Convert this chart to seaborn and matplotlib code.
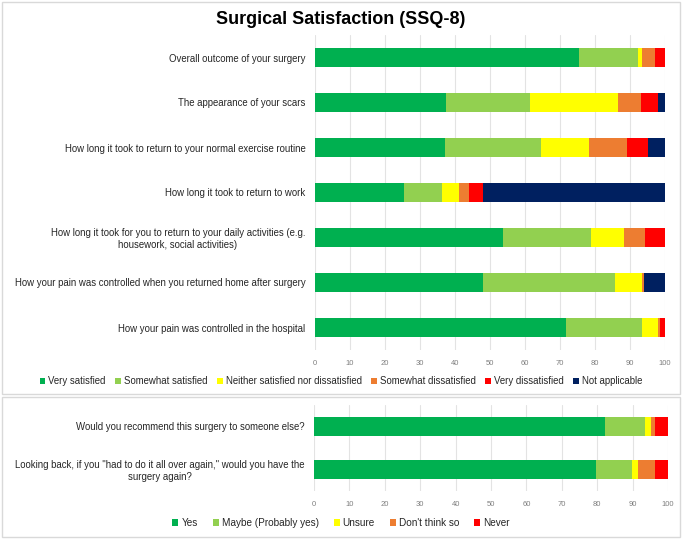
import matplotlib
matplotlib.use("Agg")
import matplotlib.pyplot as plt
import seaborn as sns
import numpy as np
from matplotlib.patches import Patch, Rectangle

# SSQ-8 questions (top panel)
questions = [
    "Overall outcome of your surgery",
    "The appearance of your scars",
    "How long it took to return to your normal exercise routine",
    "How long it took to return to work",
    "How long it took for you to return to your daily activities (e.g.\nhousework, social activities)",
    "How your pain was controlled when you returned home after surgery",
    "How your pain was controlled in the hospital",
]
sat_levels = ["Very satisfied", "Somewhat satisfied", "Neither satisfied nor dissatisfied",
              "Somewhat dissatisfied", "Very dissatisfied", "Not applicable"]
very_satisfied = [75.4, 37.4, 37.1, 25.4, 53.8, 48.0, 71.6]
somewhat_satisfied = [17.0, 24.0, 27.5, 10.9, 25.1, 37.8, 21.7]
neither = [0.9, 25.1, 13.8, 4.7, 9.5, 7.5, 4.8]
somewhat_dissatisfied = [3.8, 6.6, 10.7, 3.1, 5.9, 0.8, 0.5]
very_dissatisfied = [2.9, 5.0, 5.9, 3.9, 5.7, 0.0, 1.4]
not_applicable = [0.0, 1.9, 5.0, 52.0, 0.0, 5.9, 0.0]

# recommend / again questions (bottom panel)
questions2 = [
    "Would you recommend this surgery to someone else?",
    "Looking back, if you \"had to do it all over again,\" would you have the\nsurgery again?",
]
rec_levels = ["Yes", "Maybe (Probably yes)", "Unsure", "Don't think so", "Never"]
yes = [82.1, 79.6]
maybe = [11.3, 10.1]
unsure = [1.9, 1.9]
dont_think = [0.9, 4.7]
never = [3.8, 3.7]

colors = ["#00B050", "#92D050", "#FFFF00", "#ED7D31", "#FF0000", "#002060"]

sns.set_theme(style="white")
plt.rcParams["font.family"] = ["Liberation Sans", "DejaVu Sans"]

W, H = 682, 539
fig = plt.figure(figsize=(W / 100, H / 100), dpi=100)

# panel frames
fig.patches.append(Rectangle((2 / W, 1 - 394 / H), 678 / W, 392 / H, transform=fig.transFigure,
                             fill=False, edgecolor="#D9D9D9", linewidth=1))
fig.patches.append(Rectangle((2 / W, 1 - 537 / H), 678 / W, 140 / H, transform=fig.transFigure,
                             fill=False, edgecolor="#D9D9D9", linewidth=1))


def stacked(ax, labels, series, cols, width):
    cum = np.cumsum(np.array(series), axis=0)
    # draw from the full bar back to the first segment so each overlays the last
    for k in range(len(series) - 1, -1, -1):
        sns.barplot(x=cum[k], y=labels, orient="h", color=cols[k], width=width,
                    linewidth=0, errorbar=None, saturation=1, ax=ax)
    ax.set_xlim(0, 100)
    ax.set_xticks(range(0, 101, 10))
    ax.set_xlabel("")
    ax.set_ylabel("")
    ax.grid(axis="x", color="#E3E3E3", linewidth=0.8)
    ax.grid(axis="y", visible=False)
    ax.set_axisbelow(True)
    for s in ax.spines.values():
        s.set_visible(False)
    ax.tick_params(axis="x", length=0, labelsize=5.5, labelcolor="#7F7F7F", pad=7)
    ax.tick_params(axis="y", length=0, labelsize=6.9, labelcolor="#262626", pad=7)
    for t in ax.get_yticklabels():
        t.set_multialignment("center")


ax1 = fig.add_axes([315 / W, 1 - 350 / H, 350 / W, 315 / H])
stacked(ax1, questions,
        [very_satisfied, somewhat_satisfied, neither, somewhat_dissatisfied,
         very_dissatisfied, not_applicable], colors, 0.42)

ax2 = fig.add_axes([314 / W, 1 - 491 / H, 354 / W, 86 / H])
stacked(ax2, questions2, [yes, maybe, unsure, dont_think, never], colors[:5], 0.42)

fig.text(0.5, 1 - 20 / H, "Surgical Satisfaction (SSQ-8)", ha="center", va="center",
         fontsize=13, fontweight="bold", color="black")

h1 = [Patch(facecolor=c, edgecolor="none") for c in colors]
fig.legend(h1, sat_levels, loc="center", bbox_to_anchor=(0.5, 1 - 381 / H), ncol=6,
           frameon=False, fontsize=6.9, handlelength=0.6, handleheight=0.6,
           handletextpad=0.3, columnspacing=1.0, labelcolor="#262626")

h2 = [Patch(facecolor=c, edgecolor="none") for c in colors[:5]]
fig.legend(h2, rec_levels, loc="center", bbox_to_anchor=(0.5, 1 - 523 / H), ncol=5,
           frameon=False, fontsize=7.2, handlelength=0.6, handleheight=0.6,
           handletextpad=0.3, columnspacing=1.5, labelcolor="#262626")

fig.savefig("out.png", dpi=100)
